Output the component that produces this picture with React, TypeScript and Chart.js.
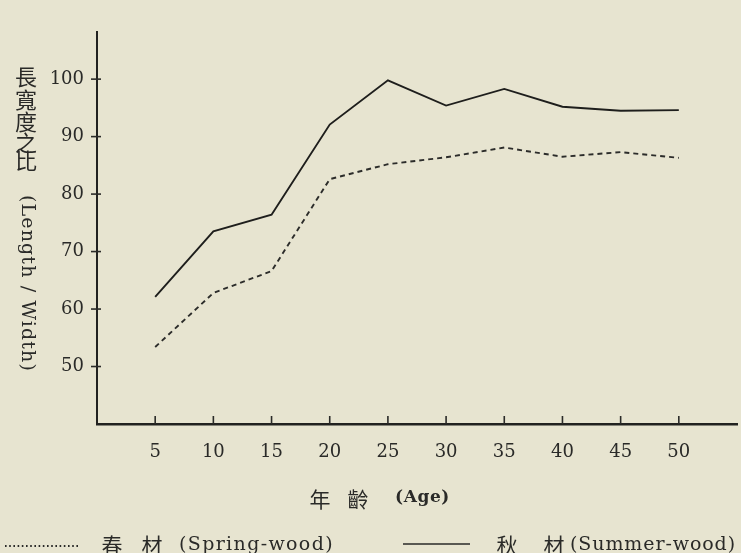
import React, { useEffect, useRef } from "react";
import { Chart, registerables } from "chart.js";

Chart.register(...registerables);

const ages = [5, 10, 15, 20, 25, 30, 35, 40, 45, 50];
const springWood = [53.4, 62.8, 66.6, 82.6, 85.2, 86.4, 88.1, 86.5, 87.3, 86.3];
const summerWood = [62.1, 73.5, 76.4, 92.1, 99.8, 95.4, 98.3, 95.2, 94.5, 94.6];
const xTickValues = [5, 10, 15, 20, 25, 30, 35, 40, 45, 50];
const yTickValues = [50, 60, 70, 80, 90, 100];

const yTitleCJK = ["長", "寬", "度", "之", "比"];
const yTitleLatin = "(Length / Width)";
const xTitleCJK = ["年", "齡"];
const xTitleLatin = "(Age)";
const springLabelCJK = ["春", "材"];
const springLabelLatin = "(Spring-wood)";
const summerLabelCJK = ["秋", "材"];
const summerLabelLatin = "(Summer-wood)";

const INK = "#2a2a28";
const SERIF = "'DejaVu Serif', serif";
const CJK = "'Noto Sans CJK TC', 'Noto Sans CJK JP', sans-serif";

function fitText(ctx: CanvasRenderingContext2D, text: string, x: number, y: number, w: number, font: string) {
  ctx.font = font;
  (ctx as any).letterSpacing = "0px";
  const m = ctx.measureText(text).width;
  const ls = (w - m) / text.length;
  (ctx as any).letterSpacing = ls.toFixed(2) + "px";
  ctx.textAlign = "left";
  ctx.fillText(text, x, y);
  (ctx as any).letterSpacing = "0px";
}

const decorPlugin = {
  id: "decor",
  afterDraw(chart: any) {
    const ctx: CanvasRenderingContext2D = chart.ctx;
    const xs = chart.scales.x;
    const ys = chart.scales.y;
    const area = chart.chartArea;
    ctx.save();
    ctx.fillStyle = INK;
    ctx.strokeStyle = INK;

    // y ticks
    ctx.lineWidth = 1.6;
    ctx.font = `18px ${SERIF}`;
    ctx.textAlign = "right";
    ctx.textBaseline = "middle";
    yTickValues.forEach((v) => {
      const py = ys.getPixelForValue(v);
      ctx.beginPath();
      ctx.moveTo(area.left - 6, py);
      ctx.lineTo(area.left + 4, py);
      ctx.stroke();
      ctx.fillText(String(v), 84, py);
    });

    // x ticks
    ctx.textAlign = "center";
    xTickValues.forEach((v) => {
      const px = xs.getPixelForValue(v);
      ctx.beginPath();
      ctx.moveTo(px, area.bottom);
      ctx.lineTo(px, area.bottom - 8);
      ctx.stroke();
      ctx.fillText(String(v), px, 452);
    });

    // y title (vertical CJK)
    ctx.font = `22px ${CJK}`;
    ctx.textAlign = "center";
    const cjkY = [77, 100, 122, 143, 161];
    yTitleCJK.forEach((c, i) => ctx.fillText(c, 26, cjkY[i]));
    // rotated latin
    ctx.save();
    ctx.translate(27, 195);
    ctx.rotate(Math.PI / 2);
    ctx.textBaseline = "middle";
    fitText(ctx, yTitleLatin, 0, 0, 177, `19px ${SERIF}`);
    ctx.restore();

    // x title
    ctx.textBaseline = "middle";
    ctx.font = `21px ${CJK}`;
    ctx.textAlign = "center";
    ctx.fillText(xTitleCJK[0], 320, 499);
    ctx.fillText(xTitleCJK[1], 358, 499);
    fitText(ctx, xTitleLatin, 395, 498, 55, `bold 17px ${SERIF}`);

    // legend
    ctx.lineWidth = 2;
    ctx.setLineDash([1.6, 2.6]);
    ctx.beginPath();
    ctx.moveTo(5, 546);
    ctx.lineTo(80, 546);
    ctx.stroke();
    ctx.setLineDash([]);
    ctx.lineWidth = 1.6;
    ctx.beginPath();
    ctx.moveTo(403, 544);
    ctx.lineTo(470, 544);
    ctx.stroke();

    ctx.font = `21px ${CJK}`;
    ctx.textAlign = "center";
    ctx.fillText(springLabelCJK[0], 112, 545);
    ctx.fillText(springLabelCJK[1], 152, 545);
    fitText(ctx, springLabelLatin, 179, 545, 155, `19px ${SERIF}`);
    ctx.font = `21px ${CJK}`;
    ctx.textAlign = "center";
    ctx.fillText(summerLabelCJK[0], 507, 545);
    ctx.fillText(summerLabelCJK[1], 554, 545);
    fitText(ctx, summerLabelLatin, 570, 545, 166, `19px ${SERIF}`);

    ctx.restore();
  },
};

export default function App() {
  const ref = useRef<HTMLCanvasElement | null>(null);
  useEffect(() => {
    document.body.style.margin = "0";
    const canvas = ref.current;
    if (!canvas) return;
    const chart = new Chart(canvas, {
      type: "line",
      data: {
        datasets: [
          {
            label: "春材 (Spring-wood)",
            data: ages.map((a, i) => ({ x: a, y: springWood[i] })),
            borderColor: "#2c2c2a",
            borderWidth: 1.9,
            borderDash: [5, 4],
            pointRadius: 0,
            tension: 0,
            fill: false,
          },
          {
            label: "秋材 (Summer-wood)",
            data: ages.map((a, i) => ({ x: a, y: summerWood[i] })),
            borderColor: "#1e1e1c",
            borderWidth: 1.9,
            pointRadius: 0,
            tension: 0,
            fill: false,
          },
        ],
      },
      options: {
        animation: false,
        responsive: false,
        maintainAspectRatio: false,
        layout: { padding: { left: 0, top: 32, right: 4, bottom: 0 } },
        plugins: { legend: { display: false }, tooltip: { enabled: false } },
        scales: {
          x: {
            type: "linear",
            min: 0,
            max: 55,
            ticks: { display: false },
            grid: { display: false },
            border: { display: true, color: "#222220", width: 2.5 },
            afterFit: (s: any) => {
              s.height = 129;
            },
          },
          y: {
            type: "linear",
            min: 40,
            max: 108.2,
            ticks: { display: false },
            grid: { display: false },
            border: { display: true, color: "#222220", width: 2 },
            afterFit: (s: any) => {
              s.width = 97;
            },
          },
        },
      } as any,
      plugins: [decorPlugin],
    });
    return () => chart.destroy();
  }, []);
  return (
    <div
      style={{
        position: "fixed",
        left: 0,
        top: 0,
        width: 741,
        height: 553,
        background: "#e7e4d0",
      }}
    >
      <canvas ref={ref} width={741} height={553} style={{ display: "block" }} />
    </div>
  );
}
